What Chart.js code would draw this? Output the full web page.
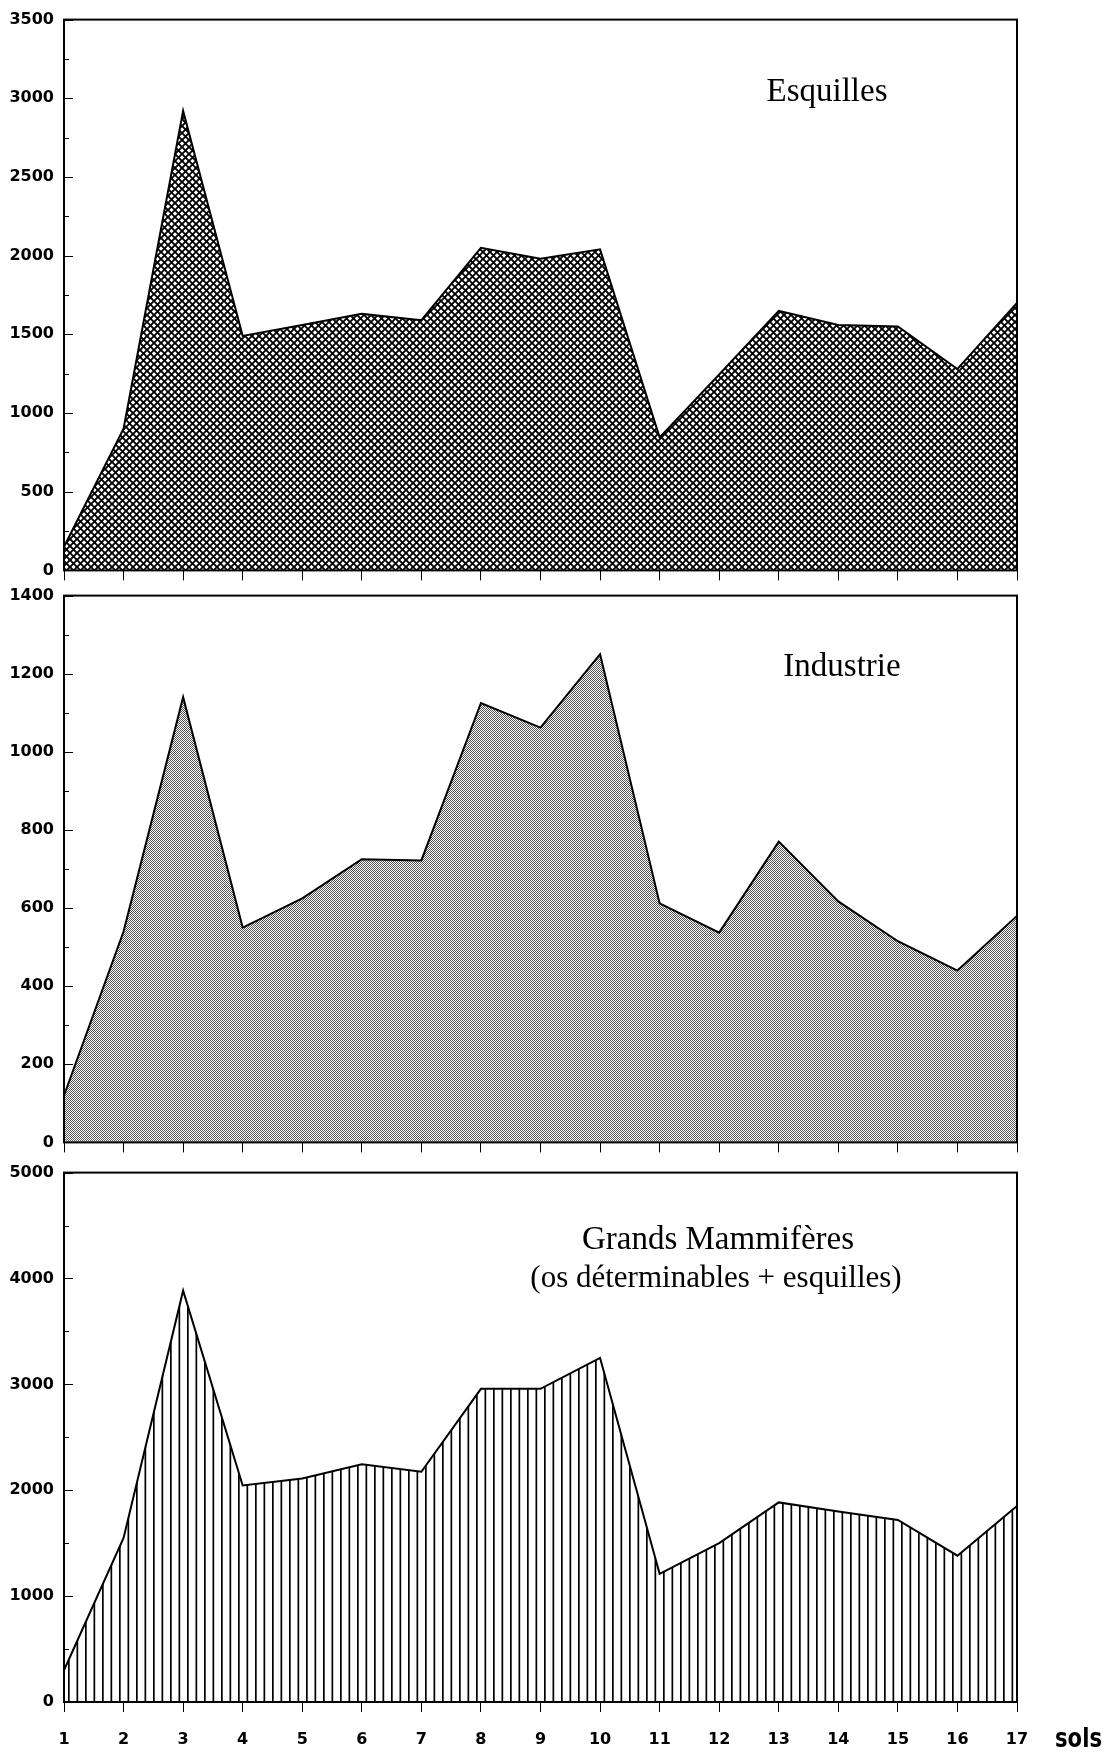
<!DOCTYPE html>
<html lang="fr">
<head>
<meta charset="utf-8">
<title>Esquilles, Industrie, Grands Mammifères par sol</title>
<script src="https://cdn.jsdelivr.net/npm/chart.js"></script>
<style>
  html, body { margin: 0; padding: 0; background: #fff; }
  #wrap { position: relative; width: 1105px; height: 1752px; }
  canvas { position: absolute; left: 0; }
</style>
</head>
<body>
<div id="wrap">
  <canvas id="chartEsquilles" width="1105" height="590" style="top:0px"></canvas>
  <canvas id="chartIndustrie" width="1105" height="586" style="top:576px"></canvas>
  <canvas id="chartMammiferes" width="1105" height="599" style="top:1153px"></canvas>
</div>
<script>
// sols 1 -> 17
const sols = ['1', '2', '3', '4', '5', '6', '7', '8', '9', '10', '11', '12', '13', '14', '15', '16', '17'];

// valeurs
const esquilles = [150, 900, 2920, 1490, 1560, 1630, 1590, 2050, 1980, 2040, 845, 1245, 1650, 1560, 1550, 1280, 1700];
const industrie = [120, 540, 1140, 550, 625, 725, 722, 1125, 1062, 1250, 612, 537, 770, 617, 515, 440, 580];
const grandsMammiferes = [300, 1550, 3885, 2045, 2110, 2245, 2175, 2958, 2958, 3250, 1210, 1500, 1885, 1800, 1720, 1382, 1852];

// échelles des axes y
const esquillesTicks = { max: 3500, step: 500 };
const industrieTicks = { max: 1400, step: 200 };
const mammiferesTicks = { max: 5000, step: 1000 };

const tickFont = { family: 'DejaVu Sans', weight: 'bold', size: 16 };

// motifs de remplissage (noir et blanc, comme l'original)
function crossHatch() {
    const s = 7;
    const c = document.createElement('canvas');
    c.width = s; c.height = s;
    const g = c.getContext('2d');
    g.fillStyle = '#fff'; g.fillRect(0, 0, s, s);
    g.strokeStyle = '#000'; g.lineWidth = 1.9;
    g.beginPath();
    g.moveTo(-1, -1); g.lineTo(s + 1, s + 1);
    g.moveTo(s + 1, -1); g.lineTo(-1, s + 1);
    g.stroke();
    return g.createPattern(c, 'repeat');
}

function stipple() {
    const c = document.createElement('canvas');
    c.width = 2; c.height = 2;
    const g = c.getContext('2d');
    g.fillStyle = '#fff'; g.fillRect(0, 0, 2, 2);
    g.fillStyle = '#555';
    g.fillRect(0, 0, 1, 1); g.fillRect(1, 1, 1, 1);
    return g.createPattern(c, 'repeat');
}

function verticalLines() {
    const c = document.createElement('canvas');
    c.width = 17; c.height = 4;
    const g = c.getContext('2d');
    g.fillStyle = '#fff'; g.fillRect(0, 0, 17, 4);
    g.fillStyle = '#000';
    g.fillRect(0, 0, 1.7, 4);
    g.fillRect(8.5, 0, 1.7, 4);
    return g.createPattern(c, 'repeat');
}

// cadre, petites graduations intérieures et titres
const framePlugin = {
    id: 'frame',
    beforeDatasetsDraw(chart) {
        const { ctx, chartArea: a, scales: { y } } = chart;
        const step = y.options.ticks.stepSize;
        ctx.save();
        ctx.strokeStyle = '#000';
        ctx.lineWidth = 1;
        ctx.beginPath();
        for (let v = 0; v <= y.max; v += step / 2) {
            const py = Math.round(y.getPixelForValue(v)) + 0.5;
            const len = (v % step === 0) ? 9 : 5;
            ctx.moveTo(a.left, py);
            ctx.lineTo(a.left + len, py);
        }
        ctx.stroke();
        ctx.restore();
    },
    afterDatasetsDraw(chart, args, opts) {
        const { ctx, chartArea: a } = chart;
        ctx.save();
        ctx.strokeStyle = '#000';
        ctx.lineWidth = 2;
        ctx.strokeRect(a.left, a.top, a.right - a.left, a.bottom - a.top);

        ctx.fillStyle = '#000';
        ctx.textAlign = 'center';
        ctx.textBaseline = 'alphabetic';
        (opts.titles || []).forEach(t => {
            ctx.font = t.size + 'px "Liberation Serif", "Times New Roman", serif';
            ctx.fillText(t.text, t.x, t.y);
        });
        if (opts.unit) {
            // "sols" en gras étroit, tassé pour tenir dans la marge
            const u = opts.unit;
            ctx.textAlign = 'left';
            ctx.font = 'bold 27px "Liberation Sans Narrow", "DejaVu Sans Condensed", sans-serif';
            const w = ctx.measureText(u.text).width;
            ctx.translate(u.x, u.y);
            if (w > u.maxWidth) ctx.scale(u.maxWidth / w, 1);
            ctx.fillText(u.text, 0, 0);
        }
        ctx.restore();
    }
};

function makeChart(id, values, yTicks, fillPattern, titles, isLast) {
    return new Chart(document.getElementById(id), {
        type: 'line',
        data: {
            labels: sols,
            datasets: [{
                data: values,
                fill: 'origin',
                backgroundColor: fillPattern,
                borderColor: '#000',
                borderWidth: 2,
                pointRadius: 0,
                tension: 0
            }]
        },
        options: {
            responsive: false,
            animation: false,
            layout: { padding: { left: 4, right: 88, top: 16, bottom: 0 } },
            plugins: {
                legend: { display: false },
                tooltip: { enabled: false },
                frame: {
                    titles: titles,
                    unit: isLast ? { text: 'sols', x: 1055, y: 594, maxWidth: 47 } : null
                }
            },
            scales: {
                x: {
                    type: 'category',
                    offset: false,
                    border: { display: false },
                    grid: { drawOnChartArea: false, drawTicks: true, tickLength: 10, color: '#000', lineWidth: 1 },
                    ticks: {
                        display: isLast,
                        autoSkip: false,
                        maxRotation: 0,
                        color: '#000',
                        font: tickFont,
                        padding: 18
                    },
                    afterFit: (s) => { s.height = isLast ? 50 : 19; }
                },
                y: {
                    min: 0,
                    max: yTicks.max,
                    border: { display: false },
                    grid: { display: false, drawTicks: false },
                    ticks: {
                        stepSize: yTicks.step,
                        color: '#000',
                        font: tickFont,
                        padding: 10,
                        callback: (v) => String(v)
                    },
                    afterFit: (s) => { s.width = 60; }
                }
            }
        },
        plugins: [framePlugin]
    });
}

makeChart('chartEsquilles', esquilles, esquillesTicks, crossHatch(),
    [{ text: 'Esquilles', x: 827, y: 101, size: 33 }], false);

makeChart('chartIndustrie', industrie, industrieTicks, stipple(),
    [{ text: 'Industrie', x: 842, y: 100, size: 33 }], false);

makeChart('chartMammiferes', grandsMammiferes, mammiferesTicks, verticalLines(),
    [{ text: 'Grands Mammifères', x: 718, y: 96, size: 33 },
     { text: '(os déterminables + esquilles)', x: 716, y: 134, size: 31 }], true);
</script>
</body>
</html>
